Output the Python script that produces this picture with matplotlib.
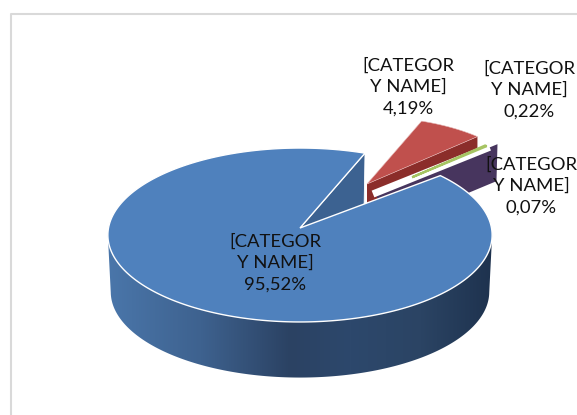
#!/usr/bin/env python3
# 3D look pie, drawn by hand because matplotlib has no 3D pie
import numpy as np
import matplotlib
matplotlib.use('Agg')
import matplotlib.pyplot as plt
from matplotlib.patches import Polygon

# data
labels = ['[CATEGOR\nY NAME]', '[CATEGOR\nY NAME]', '[CATEGOR\nY NAME]', '[CATEGOR\nY NAME]']
values = [95.52, 4.19, 0.22, 0.07]

# layout in pixels
sweep_scale = [0.9626, 1.66, 1.0, 1.0]   # picture exaggerates the exploded slices
red_start = 68.6
apex = [(300, 228), (367, 184), (372, 194), (377, 194)]
radius = [1.0, 0.84, 0.86, 0.9]
depth = [57, 37, 37, 37]
label_pos = [(275, 263), (408, 87), (529, 90), (531, 186)]

colors = ['#4f81bd', '#c0504d', '#a6c463', '#47355e']
face_colors = ['#3c6291', '#8b2d2a', '#ffffff', '#47355e']

RX, RY, K = 191.5, 86.4, 0.0805


def project(theta, c, r=1.0, dz=0.0, shrink=1.0):
    t = np.radians(theta)
    x, y = np.cos(t), np.sin(t)
    w = 1 + K * y
    return np.column_stack((c[0] + shrink * r * RX * x / w,
                            c[1] + dz - shrink * r * RY * y / w))


def wall_color(x):
    xs = [108, 200, 290, 350, 420, 492]
    rgb = [(74, 118, 170), (62, 98, 143), (43, 66, 99), (45, 72, 108), (43, 68, 100), (30, 50, 78)]
    return np.column_stack([np.interp(x, xs, [p[i] for p in rgb]) / 255 for i in range(3)])


fig = plt.figure(figsize=(5.77, 4.15), dpi=100)
ax = fig.add_axes([0, 0, 1, 1])
ax.axis('off')

# chart frame
ax.plot([11, 11, 577], [415, 14, 14], color='#d9d9d9', lw=1.5)

# slice angles, main runs counterclockwise from red_start round to the gap
main_sweep = 360 * values[0] / 100 * sweep_scale[0]
red_sweep = 360 * values[1] / 100 * sweep_scale[1]
green_sweep = 360 * values[2] / 100
purple_sweep = 360 * values[3] / 100
green_start = red_start - red_sweep
purple_start = green_start - green_sweep

# main slice cut face, seen through the gap
th = np.array([red_start])
rim = project(th, apex[0])[0]
rim_low = project(th, apex[0], dz=depth[0], shrink=0.985)[0]
ax.add_patch(Polygon([apex[0], rim, rim_low, (apex[0][0], apex[0][1] + depth[0])],
                     fc=face_colors[0], ec='white', lw=0.6))

# red slice
th = np.linspace(red_start - red_sweep, red_start, 40)
arc = project(th, apex[1], radius[1])
a0 = arc[0]
ax.add_patch(Polygon([apex[1], a0, a0 + (0, depth[1]), (apex[1][0], apex[1][1] + depth[1])],
                     fc=face_colors[1], ec='none'))
ax.add_patch(Polygon(np.vstack((apex[1], arc)), fc=colors[1], ec='#e6b8b7', lw=0.4))

# purple slice, only its cut face really shows
th = np.linspace(purple_start - purple_sweep, purple_start, 6)
arc = project(th, apex[3], radius[3])
a0 = arc[0]
ax.add_patch(Polygon([apex[3], a0, a0 + (-1, depth[3]), (apex[3][0], apex[3][1] + depth[3])],
                     fc=face_colors[3], ec='none'))

# green slice, with the white band around it
th = np.linspace(green_start - green_sweep, green_start, 6)
arc = project(th, apex[2], radius[2])
ax.plot([apex[2][0] + 1, arc[0][0] + 3], [apex[2][1], arc[0][1] + 1], color='white', lw=5.2,
        solid_capstyle='butt')
ax.add_patch(Polygon(np.vstack((apex[2] + 0.35 * (arc[0] - apex[2]), arc)),
                     fc=colors[2], ec=colors[2], lw=1.6, zorder=2.5))

# main slice outer wall, gradient by x clipped to the wall outline
th = np.linspace(185, 355, 300)
low = project(th, apex[0], dz=depth[0], shrink=0.985)
outline = np.vstack((project(th[:1], apex[0]), low, project(th[-1:], apex[0])))
grad_x = np.arange(100, 500)
grad = wall_color(grad_x)[np.newaxis, :, :]
img = ax.imshow(grad, extent=(100, 500, 415, 0), aspect='auto', zorder=2)
img.set_clip_path(Polygon(outline, transform=ax.transData))

# main slice top
th = np.linspace(red_start, red_start + main_sweep, 331)
top = project(th, apex[0])
ax.add_patch(Polygon(np.vstack((apex[0], top)), fc=colors[0], ec='white', lw=1.0, zorder=3))

for lab, val, pos in zip(labels, values, label_pos):
    txt = lab + '\n' + f'{val:.2f}'.replace('.', ',') + '%'
    ax.text(pos[0], pos[1], txt, ha='center', va='center', fontsize=13.3,
            family='Lato', color='#111111', linespacing=1.42, zorder=4)

ax.set_xlim(0, 577)
ax.set_ylim(415, 0)

fig.savefig('out.png', dpi=100)
